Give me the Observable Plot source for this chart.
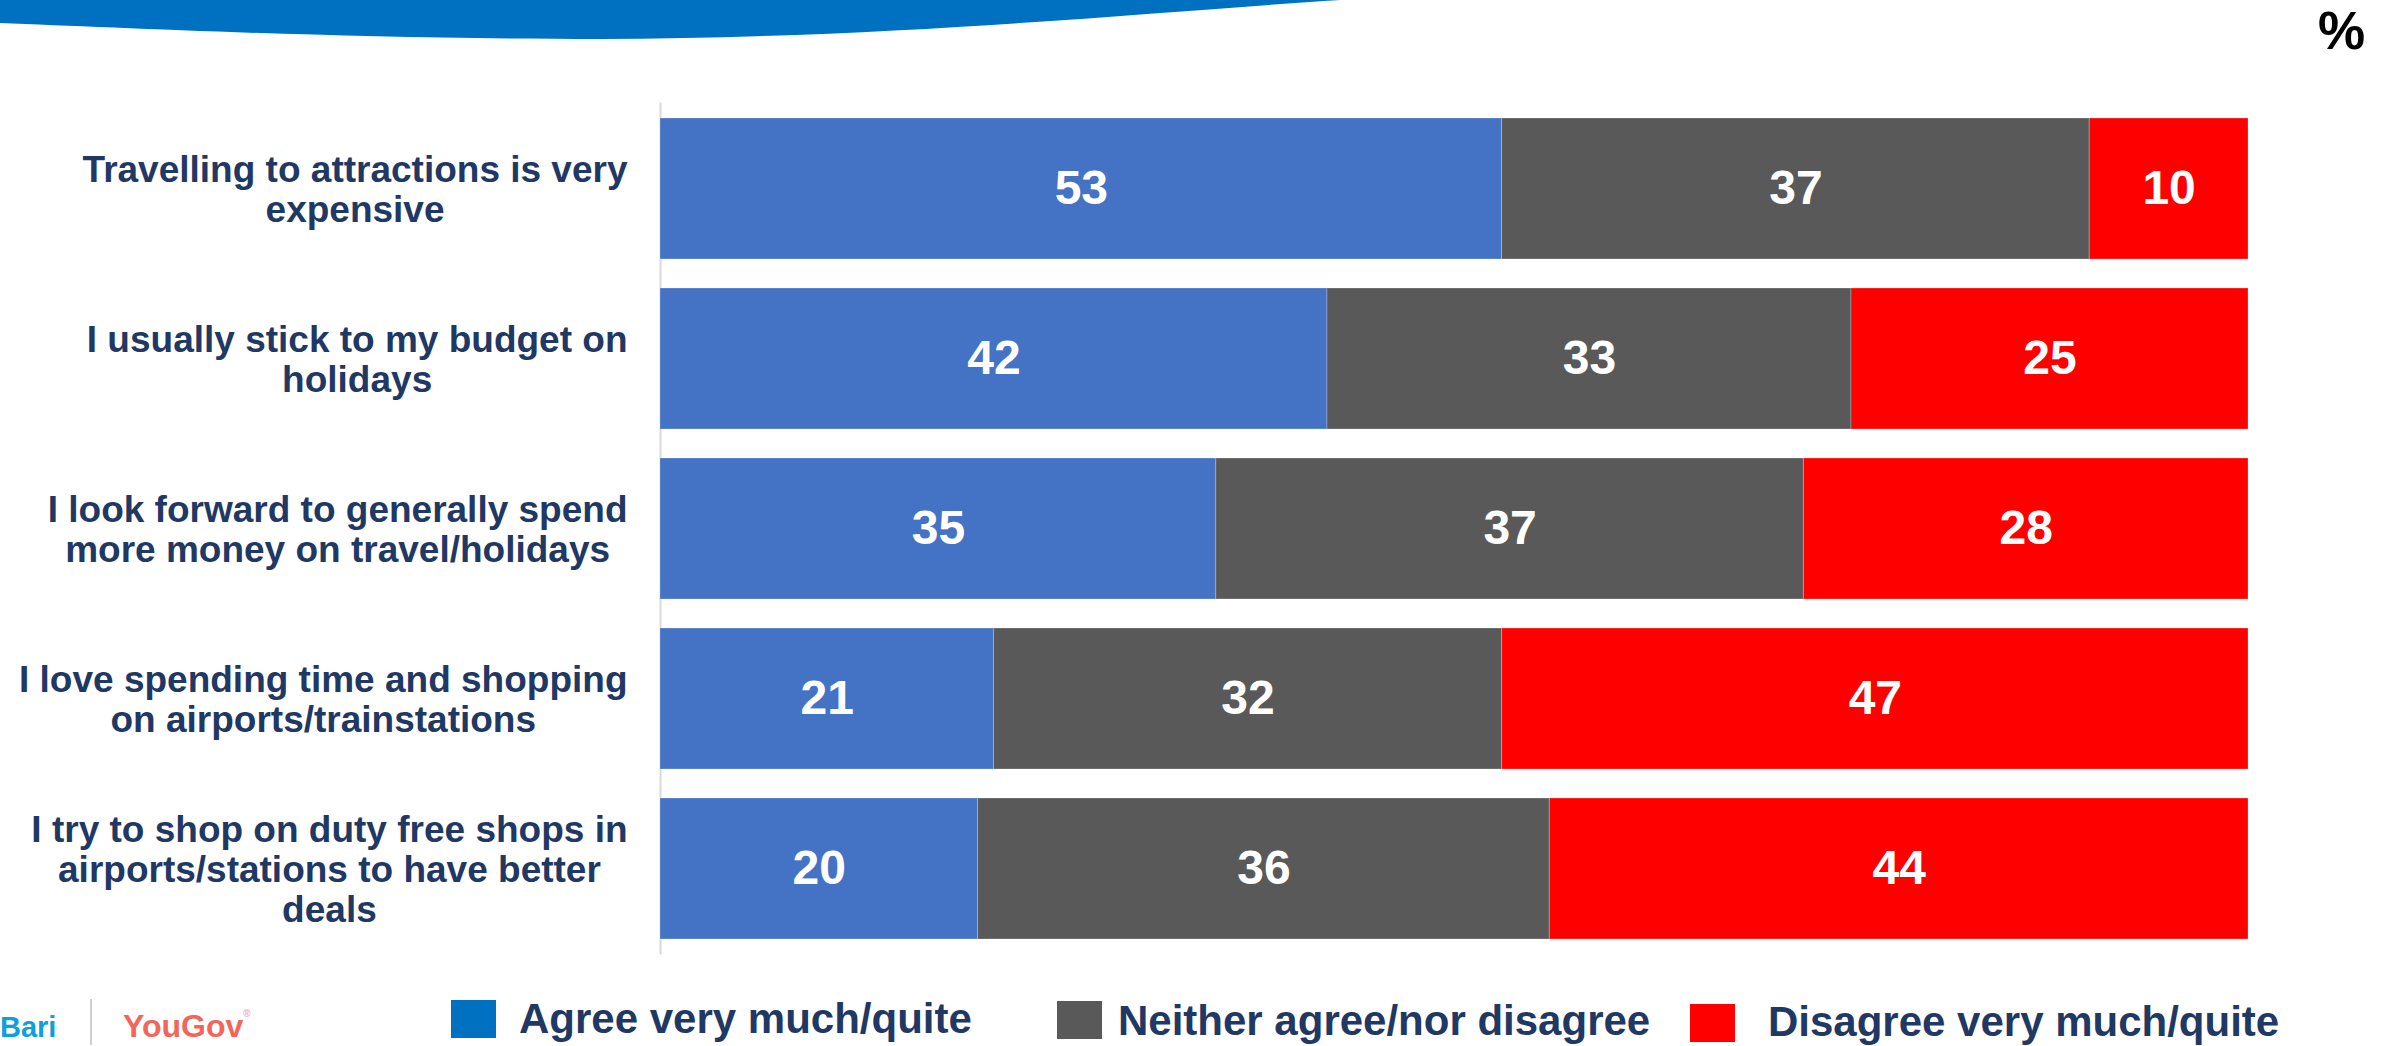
<!DOCTYPE html>
<html>
<head>
<meta charset="utf-8">
<script src="https://cdn.jsdelivr.net/npm/d3@7"></script>
<script src="https://cdn.jsdelivr.net/npm/@observablehq/plot@0.6"></script>
<style>
  html, body { margin: 0; padding: 0; background: #fff; }
  #wrap { position: relative; width: 2389px; height: 1046px; overflow: hidden; font-family: "Liberation Sans", Arial, sans-serif; }
  #overlay { position: absolute; left: 0; top: 0; pointer-events: none; }
  #chart svg, #legend { display: block; }
</style>
</head>
<body>
<div id="wrap">
  <div id="chart"></div>
  <svg id="legend" width="2389" height="86"></svg>
  <svg id="overlay" width="2389" height="120"></svg>
</div>
<script>
// ---- data ----
const categories = [
  "Travelling to attractions is very expensive",
  "I usually stick to my budget on holidays",
  "I look forward to generally spend more money on travel/holidays",
  "I love spending time and shopping on airports/trainstations",
  "I try to shop on duty free shops in airports/stations to have better deals"
];
const categoryLabels = [
  "Travelling to attractions is very\nexpensive",
  "I usually stick to my budget on\nholidays",
  "I look forward to generally spend\nmore money on travel/holidays",
  "I love spending time and shopping\non airports/trainstations",
  "I try to shop on duty free shops in\nairports/stations to have better\ndeals"
];
const responses = ["Agree very much/quite", "Neither agree/nor disagree", "Disagree very much/quite"];
const agree    = [53, 42, 35, 21, 20];
const neither  = [37, 33, 37, 32, 36];
const disagree = [10, 25, 28, 47, 44];
const barColors = ["#4472C4", "#595959", "#FF0000"];
const legendColors = ["#0070C0", "#595959", "#FF0000"];
const unitLabel = "%";

// table built from the arrays
const series = [agree, neither, disagree];
const data = [];
categories.forEach((c, i) => {
  responses.forEach((r, j) => data.push({category: c, response: r, value: series[j][i]}));
});

const FONT = '"Liberation Sans", Arial, sans-serif';
const W = 2389;

const labelGap = 33;
const labelFontSize = 37;

const chart = Plot.plot({
  width: W,
  height: 960,
  marginLeft: 660,
  marginRight: 141,
  marginTop: 102.5,
  marginBottom: 5.5,
  style: {fontFamily: FONT, background: "transparent", overflow: "visible"},
  x: {domain: [0, 100], axis: null},
  y: {domain: categories, axis: null, paddingInner: 0.17, paddingOuter: 0.085},
  color: {domain: responses, range: barColors},
  marks: [
    Plot.ruleX([0], {stroke: "#D9D9D9", strokeWidth: 2}),
    Plot.barX(data, {
      x: "value", y: "category", fill: "response", z: "response",
      stroke: "#ffffff", strokeOpacity: 0.25, strokeWidth: 1
    }),
    Plot.text(data, Plot.stackX({
      x: "value", y: "category", z: "response", text: d => String(d.value),
      fill: "white", fontSize: 48, fontWeight: "bold"
    })),
    Plot.text(categories, {
      y: d => d,
      text: (d, i) => categoryLabels[i],
      frameAnchor: "left",
      textAnchor: "middle",
      lineHeight: 1.08,
      fontSize: labelFontSize,
      fontWeight: "bold",
      fill: "#1F3864",
      render(index, scales, values, dims, context, next) {
        const g = next(index, scales, values, dims, context);
        const ctx = document.createElement("canvas").getContext("2d");
        ctx.font = `bold ${labelFontSize}px ${FONT}`;
        const right = dims.marginLeft - labelGap;
        const texts = g.querySelectorAll("text");
        texts.forEach((t, j) => {
          const i = index[j];
          const w = d3.max(categoryLabels[i].split("\n"), s => ctx.measureText(s).width);
          const tr = t.getAttribute("transform") || "";
          const m = tr.match(/translate\(\s*([-\d.e]+)[ ,]+([-\d.e]+)\s*\)/);
          const y = m ? +m[2] : 0;
          t.setAttribute("transform", `translate(${right - w / 2},${y})`);
        });
        return g;
      }
    })
  ]
});
document.getElementById("chart").appendChild(chart);

// ---- legend (below the plot) ----
const legend = d3.select("#legend");
const top0 = 960;
// logos
legend.append("text").attr("x", 0).attr("y", 1037 - top0)
  .attr("font-family", FONT).attr("font-size", 29).attr("font-weight", "bold")
  .attr("fill", "#0E9FDF").text("Bari");
legend.append("line").attr("x1", 91).attr("x2", 91).attr("y1", 999 - top0).attr("y2", 1045 - top0)
  .attr("stroke", "#BFBFBF").attr("stroke-width", 1.5);
const yg = legend.append("text").attr("x", 123).attr("y", 1037 - top0)
  .attr("font-family", FONT).attr("font-size", 32).attr("font-weight", "bold")
  .attr("fill", "#F2655A");
yg.append("tspan").text("YouGov");
yg.append("tspan").attr("font-size", 10).attr("dy", -20).attr("fill", "#F8A9A2").text("®");

const legendItems = [
  {sx: 451, sy: 1000, tx: 519, ty: 1033},
  {sx: 1057, sy: 1001, tx: 1118, ty: 1035},
  {sx: 1690, sy: 1004, tx: 1768, ty: 1036}
];
responses.forEach((r, i) => {
  const it = legendItems[i];
  legend.append("rect").attr("x", it.sx).attr("y", it.sy - top0).attr("width", 45).attr("height", 38)
    .attr("fill", legendColors[i]);
  legend.append("text").attr("x", it.tx).attr("y", it.ty - top0)
    .attr("font-family", FONT).attr("font-size", 42).attr("font-weight", "bold")
    .attr("fill", "#1F3864").text(r);
});

// ---- header decoration and unit ----
const ov = d3.select("#overlay");
ov.append("path")
  .attr("d", "M0,0 H1341 C1150,12 900,38 600,39 C350,39 130,28 0,23 Z")
  .attr("fill", "#0070C0");
ov.append("text").attr("x", 2318).attr("y", 49)
  .attr("font-family", FONT).attr("font-size", 53).attr("font-weight", "bold")
  .attr("fill", "#000").text(unitLabel);
</script>
</body>
</html>
